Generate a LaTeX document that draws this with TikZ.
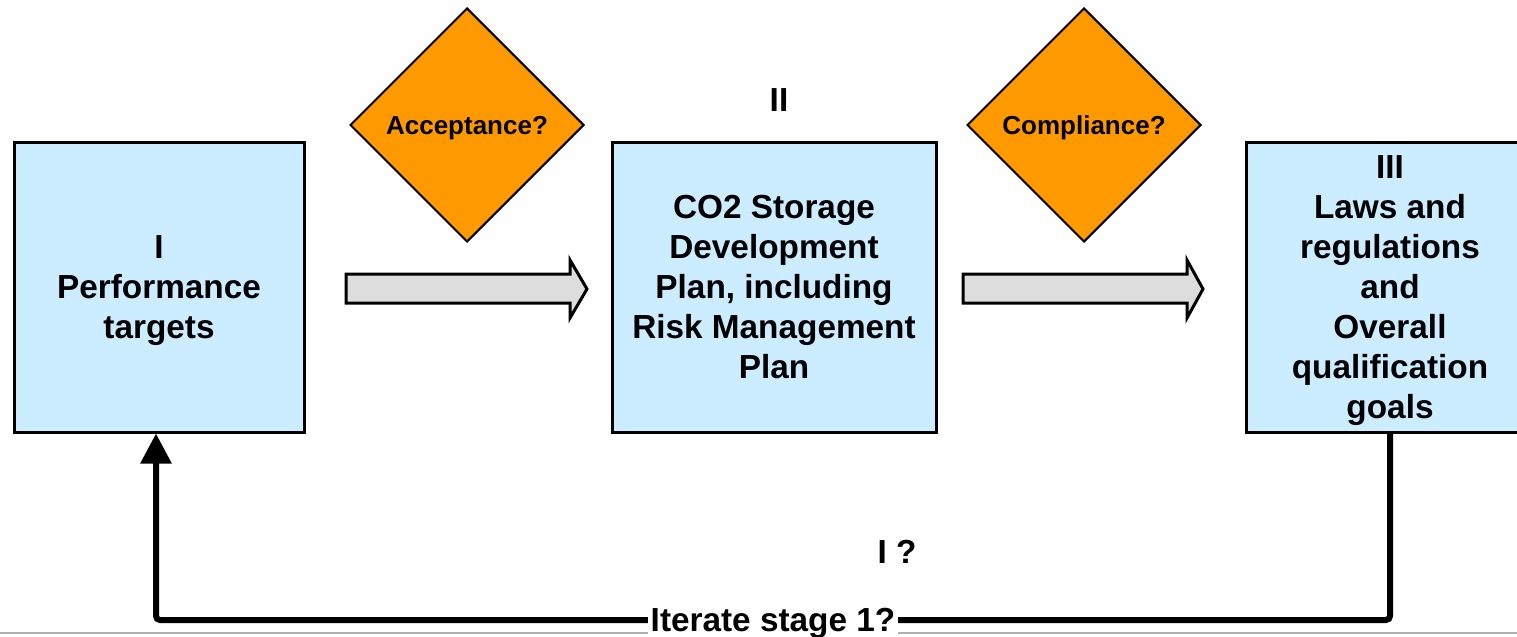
\documentclass[tikz,border=0pt]{standalone}
\usepackage{fontspec}
\setmainfont{Liberation Sans}
\usetikzlibrary{shapes.geometric,arrows.meta,calc}
\definecolor{boxblue}{HTML}{CCECFF}
\definecolor{decorange}{HTML}{FF9900}
\definecolor{arrowgray}{HTML}{DDDDDD}
\definecolor{rulegray}{HTML}{B0B0B0}
\begin{document}
\begin{tikzpicture}[x=0.75pt,y=-0.75pt,
  stagebox/.style={draw=black,line width=2.25pt,fill=boxblue,minimum height=217.5pt,
    inner sep=0pt,align=center,text depth=0pt,font=\fontsize{25}{30}\selectfont\bfseries},
  decision/.style={diamond,aspect=1,draw=black,line width=1.5pt,fill=decorange,
    minimum size=175.5pt,inner sep=0pt,text depth=0pt,font=\fontsize{19.5}{23}\selectfont\bfseries},
  blockarrow/.style={draw=black,line width=2.25pt,fill=arrowgray,line join=miter},
  feedback/.style={line width=4.5pt,rounded corners=3pt},
  plainlabel/.style={font=\fontsize{25}{30}\selectfont\bfseries,inner sep=0pt}
]
\useasboundingbox (0,0) rectangle (1517,636);
\clip (0,0) rectangle (1517,636);

% gray rule at bottom
\draw[rulegray,line width=1.5pt] (0,633) -- (1517,633);

% stage boxes
\node[stagebox,minimum width=217.5pt] (A) at (159,287) {I\\Performance\\targets};
\node[stagebox,minimum width=243pt] (B) at (774,287) {CO2 Storage\\Development\\Plan, including\\Risk Management\\Plan};
\node[stagebox,minimum width=216pt] (C) at (1390,287) {III\\Laws and\\regulations\\and\\Overall\\qualification\\goals};

% labels
\node[plainlabel] (IIlab) at (779,100) {II};
\node[plainlabel] (Iq) at (897,552) {I ?};

% decisions
\node[decision] (D1) at (467,125) {Acceptance?};
\node[decision] (D2) at (1084,125) {Compliance?};

% block arrows
\draw[blockarrow] (346,274) -- (570,274) -- (570,260) -- (587,289) -- (570,318) -- (570,303) -- (346,303) -- cycle;
\draw[blockarrow] (963,274) -- (1187,274) -- (1187,260) -- (1203,289) -- (1187,318) -- (1187,303) -- (963,303) -- cycle;

% feedback loop
\coordinate (br) at (1390,620);
\coordinate (bl) at (156,620);
\draw[feedback,-{Triangle[width=22.5pt,length=22.5pt]}]
  (C.south) -- (br) -- (bl) -- (A.south -| bl);
\node[plainlabel,fill=white,inner xsep=2pt,inner ysep=1pt,yshift=-2.25pt] (iter) at (773,620) {Iterate stage 1?};
\end{tikzpicture}
\end{document}
